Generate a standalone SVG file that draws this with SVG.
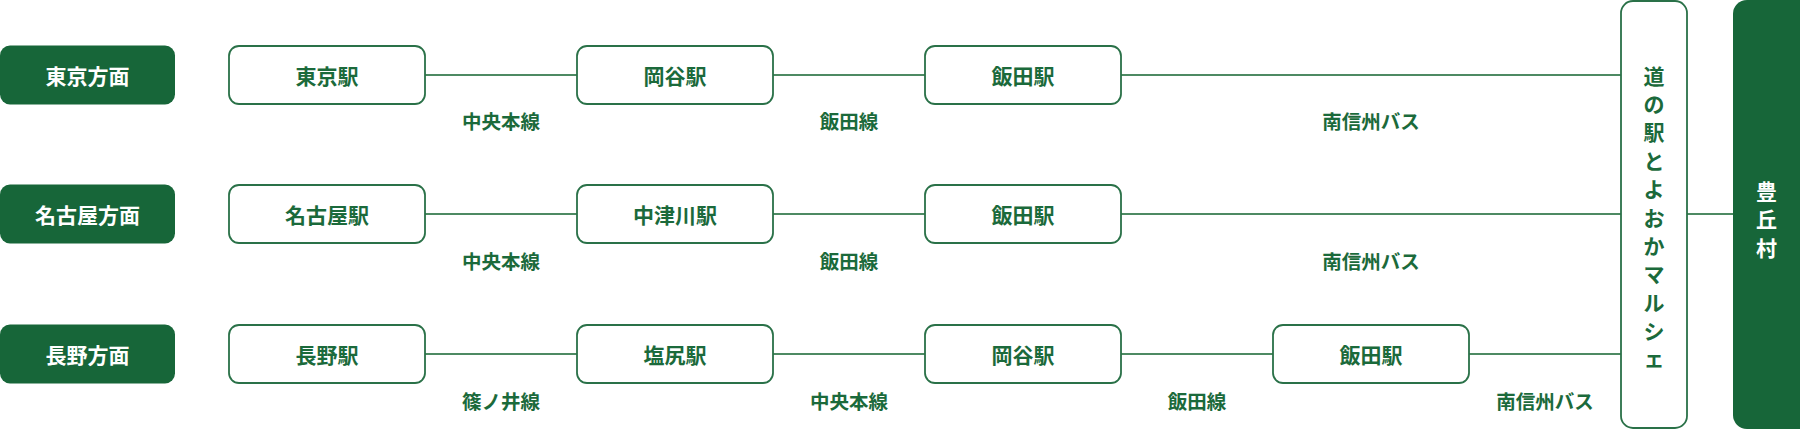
<svg xmlns="http://www.w3.org/2000/svg" width="1800" height="429" viewBox="0 0 1800 429">
<style>
text{font-family:"Noto Sans CJK JP","Noto Sans",sans-serif;font-weight:700;text-anchor:middle;dominant-baseline:central}
.dir rect{fill:#176639}
.dir text{fill:#ffffff;font-size:21px}
.st rect{fill:#ffffff;stroke:#2a7148;stroke-width:1.8}
.st text{fill:#1b6a3b;font-size:21px}
.lbl{fill:#1b6a3b;font-size:19.5px}
.conn line{stroke:#4d8a63;stroke-width:2}
.vt{fill:#1b6a3b;font-size:21px}
.vw{fill:#ffffff;font-size:21px}
</style>
<rect width="1800" height="429" fill="#ffffff"/>
<g id="connectors" class="conn">
<line x1="425" y1="75" x2="577" y2="75"/>
<line x1="773" y1="75" x2="925" y2="75"/>
<line x1="1121" y1="75" x2="1621" y2="75"/>
<line x1="425" y1="214" x2="577" y2="214"/>
<line x1="773" y1="214" x2="925" y2="214"/>
<line x1="1121" y1="214" x2="1621" y2="214"/>
<line x1="425" y1="354" x2="577" y2="354"/>
<line x1="773" y1="354" x2="925" y2="354"/>
<line x1="1121" y1="354" x2="1273" y2="354"/>
<line x1="1469" y1="354" x2="1621" y2="354"/>
<line x1="1687" y1="214" x2="1733" y2="214"/>
</g>
<g id="labels">
<text class="lbl" x="501" y="120">中央本線</text>
<text class="lbl" x="849" y="120">飯田線</text>
<text class="lbl" x="1371" y="120">南信州バス</text>
<text class="lbl" x="501" y="260">中央本線</text>
<text class="lbl" x="849" y="260">飯田線</text>
<text class="lbl" x="1371" y="260">南信州バス</text>
<text class="lbl" x="501" y="400">篠ノ井線</text>
<text class="lbl" x="849" y="400">中央本線</text>
<text class="lbl" x="1197" y="400">飯田線</text>
<text class="lbl" x="1545" y="400">南信州バス</text>
</g>
<g id="dir-tokyo" class="dir"><rect x="0" y="45.5" width="175" height="59" rx="10"/><text x="87.5" y="75">東京方面</text></g>
<g id="dir-nagoya" class="dir"><rect x="0" y="184.5" width="175" height="59" rx="10"/><text x="87.5" y="214">名古屋方面</text></g>
<g id="dir-nagano" class="dir"><rect x="0" y="324.5" width="175" height="59" rx="10"/><text x="87.5" y="354">長野方面</text></g>
<g id="st-tokyo" class="st"><rect x="229" y="46" width="196" height="58" rx="10"/><text x="327" y="75">東京駅</text></g>
<g id="st-okaya1" class="st"><rect x="577" y="46" width="196" height="58" rx="10"/><text x="675" y="75">岡谷駅</text></g>
<g id="st-iida1" class="st"><rect x="925" y="46" width="196" height="58" rx="10"/><text x="1023" y="75">飯田駅</text></g>
<g id="st-nagoya" class="st"><rect x="229" y="185" width="196" height="58" rx="10"/><text x="327" y="214">名古屋駅</text></g>
<g id="st-nakatsugawa" class="st"><rect x="577" y="185" width="196" height="58" rx="10"/><text x="675" y="214">中津川駅</text></g>
<g id="st-iida2" class="st"><rect x="925" y="185" width="196" height="58" rx="10"/><text x="1023" y="214">飯田駅</text></g>
<g id="st-nagano" class="st"><rect x="229" y="325" width="196" height="58" rx="10"/><text x="327" y="354">長野駅</text></g>
<g id="st-shiojiri" class="st"><rect x="577" y="325" width="196" height="58" rx="10"/><text x="675" y="354">塩尻駅</text></g>
<g id="st-okaya2" class="st"><rect x="925" y="325" width="196" height="58" rx="10"/><text x="1023" y="354">岡谷駅</text></g>
<g id="st-iida3" class="st"><rect x="1273" y="325" width="196" height="58" rx="10"/><text x="1371" y="354">飯田駅</text></g>
<g id="michinoeki" class="st"><rect x="1621" y="1" width="66" height="427" rx="12"/>
<text class="vt" x="1654"><tspan x="1654" y="75">道</tspan><tspan x="1654" y="103">の</tspan><tspan x="1654" y="131">駅</tspan><tspan x="1654" y="160">と</tspan><tspan x="1654" y="188">よ</tspan><tspan x="1654" y="217">お</tspan><tspan x="1654" y="245">か</tspan><tspan x="1654" y="273">マ</tspan><tspan x="1654" y="302">ル</tspan><tspan x="1654" y="330">シ</tspan><tspan x="1654" y="357">ェ</tspan></text></g>
<g id="toyooka" class="dir"><rect x="1733" y="0" width="80" height="429" rx="14"/>
<text class="vw" x="1766.5"><tspan x="1766.5" y="190">豊</tspan><tspan x="1766.5" y="218">丘</tspan><tspan x="1766.5" y="247">村</tspan></text></g>
</svg>
